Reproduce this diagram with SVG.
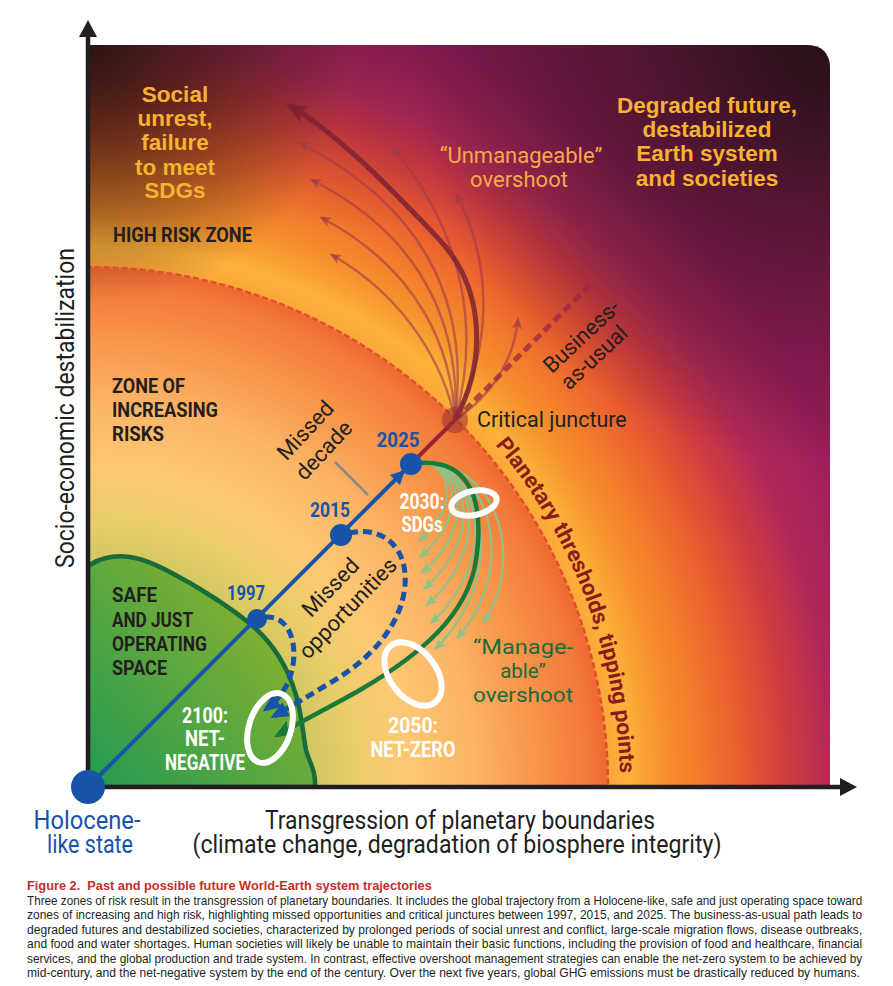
<svg xmlns="http://www.w3.org/2000/svg" width="893" height="986" viewBox="0 0 893 986">
<defs>
<style>
.cb{font-family:Roboto,'Liberation Sans',sans-serif;font-weight:700}
.rg{font-family:Roboto,'Liberation Sans',sans-serif;font-weight:400}
.zone{fill:#231f20;font-size:21px}
.yr{fill:#1753a8;font-size:21px;text-anchor:middle}
.wt{fill:#ffffff;font-size:22px;text-anchor:middle}
.org{font-family:'Liberation Sans',Arial,sans-serif;font-weight:700;fill:#f7b232;font-size:22.5px;text-anchor:middle}
.unm{fill:#f6a94a;font-size:22px;text-anchor:middle}
.dk{fill:#231f20;font-size:22px;text-anchor:middle}
.man{fill:#1a6b3a;font-size:20.5px;text-anchor:middle}
.ax{fill:#231f20;font-size:25px;text-anchor:middle}
.thr{fill:#8b1c1c;font-size:22px}
.cap{font-family:'Liberation Sans',Arial,sans-serif;font-size:12.5px;fill:#231f20}
.capt{font-family:'Liberation Sans',Arial,sans-serif;font-size:12.5px;font-weight:700;fill:#c0302c}
.redf{fill:none;stroke:#a03a48;stroke-opacity:0.6;stroke-width:2.5}
.grf{fill:none;stroke:#8cc38a;stroke-opacity:0.9;stroke-width:2.5}
.ring{fill:none;stroke:#ffffff;stroke-width:6}
.dot{fill:#1753a8}
</style>
<radialGradient id="bg" gradientUnits="userSpaceOnUse" cx="88" cy="787" r="820">
<stop offset="0" stop-color="#21994f"/>
<stop offset="0.08" stop-color="#55a83e"/>
<stop offset="0.18" stop-color="#a6be48"/>
<stop offset="0.27" stop-color="#cfc860"/>
<stop offset="0.33" stop-color="#eccd6a"/>
<stop offset="0.39" stop-color="#fdc874"/>
<stop offset="0.47" stop-color="#fcb466"/>
<stop offset="0.55" stop-color="#f89448"/>
<stop offset="0.61" stop-color="#f37a3a"/>
<stop offset="0.632" stop-color="#ef6a33"/>
<stop offset="0.636" stop-color="#fba83a"/>
<stop offset="0.66" stop-color="#fcb23a"/>
<stop offset="0.70" stop-color="#f7932e"/>
<stop offset="0.75" stop-color="#f2782c"/>
<stop offset="0.80" stop-color="#e85a30"/>
<stop offset="0.86" stop-color="#cc3842"/>
<stop offset="0.91" stop-color="#b0285a"/>
<stop offset="1" stop-color="#9a1c5c"/>
</radialGradient>
<radialGradient id="tl" gradientUnits="userSpaceOnUse" cx="90" cy="45" r="260">
<stop offset="0" stop-color="#24140c" stop-opacity="0.92"/>
<stop offset="0.5" stop-color="#2a160c" stop-opacity="0.5"/>
<stop offset="1" stop-color="#2a160c" stop-opacity="0"/>
</radialGradient>
<radialGradient id="tr" gradientUnits="userSpaceOnUse" cx="830" cy="45" r="420">
<stop offset="0" stop-color="#1c1012" stop-opacity="0.9"/>
<stop offset="0.5" stop-color="#1c1012" stop-opacity="0.45"/>
<stop offset="1" stop-color="#1c1012" stop-opacity="0"/>
</radialGradient>
<linearGradient id="tp" gradientUnits="userSpaceOnUse" x1="0" y1="45" x2="0" y2="230">
<stop offset="0" stop-color="#2a1020" stop-opacity="0.22"/>
<stop offset="1" stop-color="#2a1020" stop-opacity="0"/>
</linearGradient>
<linearGradient id="gz" gradientUnits="userSpaceOnUse" x1="88" y1="787" x2="300" y2="600">
<stop offset="0" stop-color="#229a52"/>
<stop offset="1" stop-color="#93b42c"/>
</linearGradient>
<clipPath id="plot"><path d="M90,45 H806 Q830,45 830,69 V787 H90 Z"/></clipPath>
<path id="thr" d="M489.5,438 A532,532 0 0 1 619.3,814.8"/>
<marker id="mRT" markerUnits="userSpaceOnUse" markerWidth="22" markerHeight="18" viewBox="0 0 22 18" refX="17" refY="9" orient="auto"><path d="M0,0 L22,9 L0,18 L5,9 Z" fill="#7e2232" fill-opacity="0.9"/></marker>
<marker id="mR" markerUnits="userSpaceOnUse" markerWidth="12" markerHeight="10" viewBox="0 0 12 10" refX="9" refY="5" orient="auto"><path d="M0,0 L12,5 L0,10 L3,5 Z" fill="#a03a48" fill-opacity="0.7"/></marker>
<marker id="mG" markerUnits="userSpaceOnUse" markerWidth="12" markerHeight="10" viewBox="0 0 12 10" refX="9" refY="5" orient="auto"><path d="M0,0 L12,5 L0,10 L3,5 Z" fill="#8cc38a"/></marker>
<marker id="mDG" markerUnits="userSpaceOnUse" markerWidth="20" markerHeight="16" viewBox="0 0 20 16" refX="15" refY="8" orient="auto"><path d="M0,0 L20,8 L0,16 L4,8 Z" fill="#1a7a3a"/></marker>
<marker id="mB" markerUnits="userSpaceOnUse" markerWidth="18" markerHeight="16" viewBox="0 0 18 16" refX="14" refY="8" orient="auto"><path d="M0,0 L18,8 L0,16 Z" fill="#1753a8"/></marker>
</defs>
<rect width="893" height="986" fill="#ffffff"/>

<g id="background" clip-path="url(#plot)">
<rect x="88" y="40" width="745" height="750" fill="url(#bg)"/>
<rect x="88" y="40" width="745" height="750" fill="url(#tp)"/>
<rect x="88" y="40" width="745" height="750" fill="url(#tl)"/>
<rect x="88" y="40" width="745" height="750" fill="url(#tr)"/>
<path id="safe-zone" d="M88,566 C100,558 115,555 130,557 C150,560 170,572 190,583 C210,595 235,610 255,628 C275,646 288,668 296,695 C302,715 303,735 306,750 C309,762 316,770 315,787 L88,787 Z" fill="url(#gz)" stroke="#1a6b3a" stroke-width="4.5"/>
<circle id="threshold" cx="88" cy="787" r="520" fill="none" stroke="#e0502a" stroke-width="2.5" stroke-dasharray="6 3"/>
</g>

<g id="zone-labels">
<text class="org" x="175" y="102">Social</text>
<text class="org" x="175" y="126">unrest,</text>
<text class="org" x="175" y="150">failure</text>
<text class="org" x="175" y="175">to meet</text>
<text class="org" x="175" y="198">SDGs</text>
<text class="org" x="707" y="113">Degraded future,</text>
<text class="org" x="707" y="137">destabilized</text>
<text class="org" x="707" y="161">Earth system</text>
<text class="org" x="707" y="186">and societies</text>
<text class="cb zone" x="113" y="242" textLength="139" lengthAdjust="spacingAndGlyphs">HIGH RISK ZONE</text>
<text class="cb zone" x="112" y="393" textLength="73" lengthAdjust="spacingAndGlyphs">ZONE OF</text>
<text class="cb zone" x="112" y="417" textLength="106" lengthAdjust="spacingAndGlyphs">INCREASING</text>
<text class="cb zone" x="112" y="441" textLength="52" lengthAdjust="spacingAndGlyphs">RISKS</text>
<text class="cb zone" x="112" y="602" textLength="45" lengthAdjust="spacingAndGlyphs">SAFE</text>
<text class="cb zone" x="112" y="627" textLength="81" lengthAdjust="spacingAndGlyphs">AND JUST</text>
<text class="cb zone" x="112" y="651" textLength="95" lengthAdjust="spacingAndGlyphs">OPERATING</text>
<text class="cb zone" x="112" y="675" textLength="55" lengthAdjust="spacingAndGlyphs">SPACE</text>
<text class="cb thr"><textPath href="#thr" startOffset="9" textLength="95" lengthAdjust="spacingAndGlyphs">Planetary</textPath></text>
<text class="cb thr"><textPath href="#thr" startOffset="110" textLength="112" lengthAdjust="spacingAndGlyphs">thresholds,</textPath></text>
<text class="cb thr"><textPath href="#thr" startOffset="228" textLength="139" lengthAdjust="spacingAndGlyphs">tipping points</textPath></text>
</g>

<g id="connectors">
<g id="unmanageable-fan">
<path class="redf" d="M455,420 C445,370 410,300 332,255" marker-end="url(#mR)"/>
<path class="redf" d="M455,420 C452,350 420,270 322,218" marker-end="url(#mR)"/>
<path class="redf" d="M455,420 C460,335 430,240 312,180" marker-end="url(#mR)"/>
<path class="redf" d="M455,420 C468,320 440,215 300,143" marker-end="url(#mR)"/>
<path class="redf" d="M455,420 C478,340 470,240 393,148" marker-end="url(#mR)"/>
<path class="redf" d="M455,420 C490,350 495,270 457,195" marker-end="url(#mR)"/>
<path class="redf" d="M455,420 C485,400 512,370 518,320" marker-end="url(#mR)"/>
</g>
<path id="bau" d="M455,420 L590,285" fill="none" stroke="#9b2840" stroke-opacity="0.75" stroke-width="5" stroke-dasharray="9 5"/>
<path id="main-red" d="M411,464 L455,420" fill="none" stroke="#9b2335" stroke-width="4"/>
<path id="thick-red" d="M455,420 C485,365 488,290 437,237 C397,195 340,135 290,106" fill="none" stroke="#7e2232" stroke-opacity="0.85" stroke-width="5" marker-end="url(#mRT)"/>
<circle id="critical-juncture" cx="455" cy="420" r="13" fill="#9b3030" fill-opacity="0.55"/>
<g id="manageable-fan">
<path class="grf" d="M414,462 C450,458 462,505 420,540" marker-end="url(#mG)"/>
<path class="grf" d="M414,462 C456,458 470,515 421,556" marker-end="url(#mG)"/>
<path class="grf" d="M414,462 C462,458 478,525 423,572" marker-end="url(#mG)"/>
<path class="grf" d="M414,462 C468,458 486,535 425,588" marker-end="url(#mG)"/>
<path class="grf" d="M414,462 C474,458 494,545 428,604" marker-end="url(#mG)"/>
<path class="grf" d="M414,462 C480,458 502,558 432,622" marker-end="url(#mG)"/>
<path class="grf" d="M414,462 C486,458 510,575 436,648" marker-end="url(#mG)"/>
<path class="grf" d="M414,462 C494,458 518,570 458,637" marker-end="url(#mG)"/>
<path class="grf" d="M414,462 C500,458 525,560 484,622" marker-end="url(#mG)"/>
</g>
<path id="green-path" d="M411,464 C470,455 485,500 476,560 C468,615 420,655 360,690 C330,707 300,722 278,735" fill="none" stroke="#1a7a3a" stroke-width="4.5" marker-end="url(#mDG)"/>
<path id="loop-1997" d="M265,617 C290,615 298,645 292,670 C288,688 278,700 266,709" fill="none" stroke="#1753a8" stroke-width="5" stroke-dasharray="9 5" marker-end="url(#mB)"/>
<path id="loop-2015" d="M349,533 C385,525 408,550 405,585 C402,625 370,660 330,683 C310,695 292,706 274,716" fill="none" stroke="#1753a8" stroke-width="5" stroke-dasharray="9 5" marker-end="url(#mB)"/>
<path id="blue-path" d="M88,787 L411,464" fill="none" stroke="#1753a8" stroke-width="4"/>
<polygon points="405,470 400,485 390,475" fill="#1753a8"/>
<line x1="335" y1="462" x2="368" y2="495" stroke="#8a8a8a" stroke-width="2.5"/>
</g>

<g id="target-2030"><ellipse class="ring" cx="474" cy="503" rx="23" ry="12" transform="rotate(-12 474 503)" stroke-width="5"/>
<text class="cb wt" x="422" y="509" textLength="45" lengthAdjust="spacingAndGlyphs">2030:</text>
<text class="cb wt" x="422" y="532" textLength="41" lengthAdjust="spacingAndGlyphs">SDGs</text></g>
<g id="target-2050"><ellipse class="ring" cx="413" cy="674" rx="36" ry="23" transform="rotate(52 413 674)"/>
<text class="cb wt" x="413" y="733" textLength="50" lengthAdjust="spacingAndGlyphs">2050:</text>
<text class="cb wt" x="413" y="757" textLength="85" lengthAdjust="spacingAndGlyphs">NET-ZERO</text></g>
<g id="target-2100"><ellipse class="ring" cx="270" cy="728" rx="21" ry="36" transform="rotate(18 270 728)"/>
<text class="cb wt" x="205" y="723" textLength="46" lengthAdjust="spacingAndGlyphs">2100:</text>
<text class="cb wt" x="205" y="746" textLength="40" lengthAdjust="spacingAndGlyphs">NET-</text>
<text class="cb wt" x="205" y="770" textLength="80" lengthAdjust="spacingAndGlyphs">NEGATIVE</text></g>

<g id="node-1997"><circle class="dot" cx="257" cy="619" r="10"/><text class="cb yr" x="246" y="600" textLength="38" lengthAdjust="spacingAndGlyphs">1997</text></g>
<g id="node-2015"><circle class="dot" cx="341" cy="535" r="11"/><text class="cb yr" x="330" y="517" textLength="40" lengthAdjust="spacingAndGlyphs">2015</text></g>
<g id="node-2025"><circle class="dot" cx="411" cy="464" r="11"/><text class="cb yr" x="398" y="447" textLength="43" lengthAdjust="spacingAndGlyphs">2025</text></g>

<g id="labels">
<text class="rg unm" x="521" y="163">“Unmanageable”</text>
<text class="rg unm" x="519" y="187">overshoot</text>
<text class="rg" x="477" y="427" font-size="21.5" fill="#231f20">Critical juncture</text>
<text class="rg man" x="523" y="654" textLength="100" lengthAdjust="spacingAndGlyphs">“Manage-</text>
<text class="rg man" x="523" y="678">able”</text>
<text class="rg man" x="523" y="702" textLength="100" lengthAdjust="spacingAndGlyphs">overshoot</text>
<g transform="translate(305,430) rotate(-47)"><text class="rg dk" x="0" y="8">Missed</text><text class="rg dk" x="-2" y="35">decade</text></g>
<g transform="translate(330,587) rotate(-46)"><text class="rg dk" x="0" y="8">Missed</text><text class="rg dk" x="-3" y="35">opportunities</text></g>
<g transform="translate(581,336) rotate(-43)"><text class="rg dk" x="0" y="8" font-size="23">Business-</text><text class="rg dk" x="-5" y="32" font-size="23">as-usual</text></g>
</g>

<g id="axes" fill="#231f20">
<line x1="88" y1="790" x2="88" y2="34" stroke="#231f20" stroke-width="4.5"/>
<polygon points="88,20 79,37 97,37"/>
<line x1="86" y1="787" x2="842" y2="787" stroke="#231f20" stroke-width="4.5"/>
<polygon points="857,787 840,778 840,796"/>
</g>
<g id="holocene"><circle cx="88" cy="787" r="17" fill="#1753a8"/>
<text class="rg" x="87" y="829" font-size="25" fill="#1753a8" text-anchor="middle" textLength="107" lengthAdjust="spacingAndGlyphs">Holocene-</text>
<text class="rg" x="90" y="853" font-size="25" fill="#1753a8" text-anchor="middle" textLength="86" lengthAdjust="spacingAndGlyphs">like state</text></g>
<g id="axis-labels">
<text class="rg ax" transform="translate(74,408) rotate(-90)" textLength="320" lengthAdjust="spacingAndGlyphs">Socio-economic destabilization</text>
<text class="rg ax" x="460" y="829" textLength="390" lengthAdjust="spacingAndGlyphs">Transgression of planetary boundaries</text>
<text class="rg ax" x="457" y="853" textLength="529" lengthAdjust="spacingAndGlyphs">(climate change, degradation of biosphere integrity)</text>
</g>
<g id="caption">
<text class="capt" transform="translate(27,890) scale(0.8,1)" textLength="506" lengthAdjust="spacingAndGlyphs">Figure 2.&#160; Past and possible future World-Earth system trajectories</text>
<text class="cap" transform="translate(27,904.5) scale(0.8,1)" textLength="1044" lengthAdjust="spacingAndGlyphs">Three zones of risk result in the transgression of planetary boundaries. It includes the global trajectory from a Holocene-like, safe and just operating space toward</text>
<text class="cap" transform="translate(27,919) scale(0.8,1)" textLength="1044" lengthAdjust="spacingAndGlyphs">zones of increasing and high risk, highlighting missed opportunities and critical junctures between 1997, 2015, and 2025. The business-as-usual path leads to</text>
<text class="cap" transform="translate(27,933.5) scale(0.8,1)" textLength="1044" lengthAdjust="spacingAndGlyphs">degraded futures and destabilized societies, characterized by prolonged periods of social unrest and conflict, large-scale migration flows, disease outbreaks,</text>
<text class="cap" transform="translate(27,948) scale(0.8,1)" textLength="1044" lengthAdjust="spacingAndGlyphs">and food and water shortages. Human societies will likely be unable to maintain their basic functions, including the provision of food and healthcare, financial</text>
<text class="cap" transform="translate(27,962.5) scale(0.8,1)" textLength="1044" lengthAdjust="spacingAndGlyphs">services, and the global production and trade system. In contrast, effective overshoot management strategies can enable the net-zero system to be achieved by</text>
<text class="cap" transform="translate(27,977) scale(0.8,1)" textLength="1041" lengthAdjust="spacingAndGlyphs">mid-century, and the net-negative system by the end of the century. Over the next five years, global GHG emissions must be drastically reduced by humans.</text>
</g>
</svg>
